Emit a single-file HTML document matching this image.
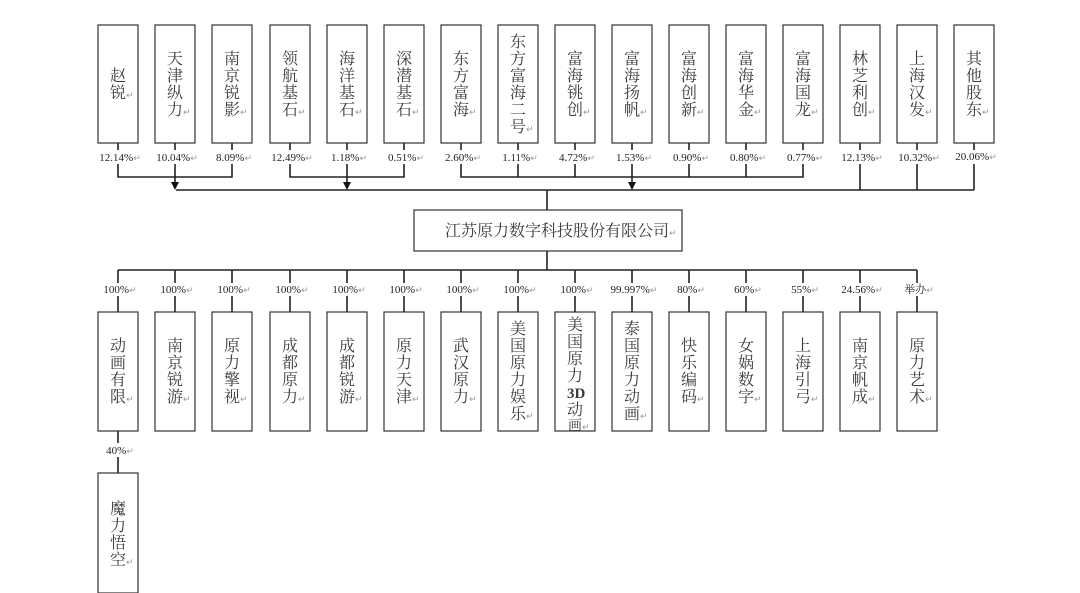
<!DOCTYPE html>
<html><head><meta charset="utf-8"><style>
html,body{margin:0;padding:0;background:#fff;}
svg{display:block;}
.c{font-family:"Liberation Serif","Noto Serif CJK SC",serif;font-size:16px;fill:#3a3a3a;text-anchor:start;}
.r{font-family:"DejaVu Sans",sans-serif;font-size:9px;fill:#999;}
.p{font-family:"Liberation Serif","Noto Serif CJK SC",serif;font-size:11px;fill:#222;text-anchor:middle;}
</style></head><body>
<svg width="1080" height="593" viewBox="0 0 1080 593" xmlns="http://www.w3.org/2000/svg">
<g fill="#fff" stroke="#333" stroke-width="1.2">
<rect x="98" y="25" width="40" height="118"/><rect x="155" y="25" width="40" height="118"/><rect x="212" y="25" width="40" height="118"/><rect x="270" y="25" width="40" height="118"/><rect x="327" y="25" width="40" height="118"/><rect x="384" y="25" width="40" height="118"/><rect x="441" y="25" width="40" height="118"/><rect x="498" y="25" width="40" height="118"/><rect x="555" y="25" width="40" height="118"/><rect x="612" y="25" width="40" height="118"/><rect x="669" y="25" width="40" height="118"/><rect x="726" y="25" width="40" height="118"/><rect x="783" y="25" width="40" height="118"/><rect x="840" y="25" width="40" height="118"/><rect x="897" y="25" width="40" height="118"/><rect x="954" y="25" width="40" height="118"/>
<rect x="414" y="210" width="268" height="41"/>
<rect x="98" y="312" width="40" height="119"/><rect x="155" y="312" width="40" height="119"/><rect x="212" y="312" width="40" height="119"/><rect x="270" y="312" width="40" height="119"/><rect x="327" y="312" width="40" height="119"/><rect x="384" y="312" width="40" height="119"/><rect x="441" y="312" width="40" height="119"/><rect x="498" y="312" width="40" height="119"/><rect x="555" y="312" width="40" height="119"/><rect x="612" y="312" width="40" height="119"/><rect x="669" y="312" width="40" height="119"/><rect x="726" y="312" width="40" height="119"/><rect x="783" y="312" width="40" height="119"/><rect x="840" y="312" width="40" height="119"/><rect x="897" y="312" width="40" height="119"/>
<rect x="98" y="473" width="40" height="120"/>
</g>
<g stroke="#222" stroke-width="1.6" fill="none">
<path d="M118 143V150M175 143V150M232 143V150M290 143V150M347 143V150M404 143V150M461 143V150M518 143V150M575 143V150M632 143V150M689 143V150M746 143V150M803 143V150M860 143V150M917 143V150M974 143V150"/>
<path d="M118 164V177H232V164M175 164V184M290 164V177H404V164M347 164V184M461 164V177H803V164M518 164V177M575 164V177M632 164V184M689 164V177M746 164V177"/>
<path d="M860 164V190M917 164V190M974 164V190M176 190H974M547 190V210M547 251V270M118 270H917"/>
<path d="M118 270V283M175 270V283M232 270V283M290 270V283M347 270V283M404 270V283M461 270V283M518 270V283M575 270V283M632 270V283M689 270V283M746 270V283M803 270V283M860 270V283M917 270V283"/>
<path d="M118 296V312M175 296V312M232 296V312M290 296V312M347 296V312M404 296V312M461 296V312M518 296V312M575 296V312M632 296V312M689 296V312M746 296V312M803 296V312M860 296V312M917 296V312"/>
<path d="M118 431V443M118 457V473"/>
</g>
<g fill="#111"><path d="M171 182H179L175 190Z"/><path d="M343 182H351L347 190Z"/><path d="M628 182H636L632 190Z"/></g>
<g class="p">
<text x="120" y="161">12.14%<tspan class="r">↵</tspan></text><text x="177" y="161">10.04%<tspan class="r">↵</tspan></text><text x="234" y="161">8.09%<tspan class="r">↵</tspan></text><text x="292" y="161">12.49%<tspan class="r">↵</tspan></text><text x="349" y="161">1.18%<tspan class="r">↵</tspan></text><text x="406" y="161">0.51%<tspan class="r">↵</tspan></text><text x="463" y="161">2.60%<tspan class="r">↵</tspan></text><text x="520" y="161">1.11%<tspan class="r">↵</tspan></text><text x="577" y="161">4.72%<tspan class="r">↵</tspan></text><text x="634" y="161">1.53%<tspan class="r">↵</tspan></text><text x="691" y="161">0.90%<tspan class="r">↵</tspan></text><text x="748" y="161">0.80%<tspan class="r">↵</tspan></text><text x="805" y="161">0.77%<tspan class="r">↵</tspan></text><text x="862" y="161">12.13%<tspan class="r">↵</tspan></text><text x="919" y="161">10.32%<tspan class="r">↵</tspan></text><text x="976" y="160">20.06%<tspan class="r">↵</tspan></text>
<text x="120" y="293">100%<tspan class="r">↵</tspan></text><text x="177" y="293">100%<tspan class="r">↵</tspan></text><text x="234" y="293">100%<tspan class="r">↵</tspan></text><text x="292" y="293">100%<tspan class="r">↵</tspan></text><text x="349" y="293">100%<tspan class="r">↵</tspan></text><text x="406" y="293">100%<tspan class="r">↵</tspan></text><text x="463" y="293">100%<tspan class="r">↵</tspan></text><text x="520" y="293">100%<tspan class="r">↵</tspan></text><text x="577" y="293">100%<tspan class="r">↵</tspan></text><text x="634" y="293">99.997%<tspan class="r">↵</tspan></text><text x="691" y="293">80%<tspan class="r">↵</tspan></text><text x="748" y="293">60%<tspan class="r">↵</tspan></text><text x="805" y="293">55%<tspan class="r">↵</tspan></text><text x="862" y="293">24.56%<tspan class="r">↵</tspan></text><text x="919" y="293">举办<tspan class="r">↵</tspan></text>
<text x="120" y="454">40%<tspan class="r">↵</tspan></text>
</g>
<g class="c" transform="translate(-8,0)">
<text x="118" y="81">赵</text><text x="118" y="98">锐<tspan class="r">↵</tspan></text>
<text x="175" y="64">天</text><text x="175" y="81">津</text><text x="175" y="98">纵</text><text x="175" y="115">力<tspan class="r">↵</tspan></text>
<text x="232" y="64">南</text><text x="232" y="81">京</text><text x="232" y="98">锐</text><text x="232" y="115">影<tspan class="r">↵</tspan></text>
<text x="290" y="64">领</text><text x="290" y="81">航</text><text x="290" y="98">基</text><text x="290" y="115">石<tspan class="r">↵</tspan></text>
<text x="347" y="64">海</text><text x="347" y="81">洋</text><text x="347" y="98">基</text><text x="347" y="115">石<tspan class="r">↵</tspan></text>
<text x="404" y="64">深</text><text x="404" y="81">潜</text><text x="404" y="98">基</text><text x="404" y="115">石<tspan class="r">↵</tspan></text>
<text x="461" y="64">东</text><text x="461" y="81">方</text><text x="461" y="98">富</text><text x="461" y="115">海<tspan class="r">↵</tspan></text>
<text x="518" y="47">东</text><text x="518" y="64">方</text><text x="518" y="81">富</text><text x="518" y="98">海</text><text x="518" y="115">二</text><text x="518" y="132">号<tspan class="r">↵</tspan></text>
<text x="575" y="64">富</text><text x="575" y="81">海</text><text x="575" y="98">铫</text><text x="575" y="115">创<tspan class="r">↵</tspan></text>
<text x="632" y="64">富</text><text x="632" y="81">海</text><text x="632" y="98">扬</text><text x="632" y="115">帆<tspan class="r">↵</tspan></text>
<text x="689" y="64">富</text><text x="689" y="81">海</text><text x="689" y="98">创</text><text x="689" y="115">新<tspan class="r">↵</tspan></text>
<text x="746" y="64">富</text><text x="746" y="81">海</text><text x="746" y="98">华</text><text x="746" y="115">金<tspan class="r">↵</tspan></text>
<text x="803" y="64">富</text><text x="803" y="81">海</text><text x="803" y="98">国</text><text x="803" y="115">龙<tspan class="r">↵</tspan></text>
<text x="860" y="64">林</text><text x="860" y="81">芝</text><text x="860" y="98">利</text><text x="860" y="115">创<tspan class="r">↵</tspan></text>
<text x="917" y="64">上</text><text x="917" y="81">海</text><text x="917" y="98">汉</text><text x="917" y="115">发<tspan class="r">↵</tspan></text>
<text x="974" y="64">其</text><text x="974" y="81">他</text><text x="974" y="98">股</text><text x="974" y="115">东<tspan class="r">↵</tspan></text>
<text x="453" y="236">江苏原力数字科技股份有限公司<tspan class="r">↵</tspan></text>
<text x="118" y="351">动</text><text x="118" y="368">画</text><text x="118" y="385">有</text><text x="118" y="402">限<tspan class="r">↵</tspan></text>
<text x="175" y="351">南</text><text x="175" y="368">京</text><text x="175" y="385">锐</text><text x="175" y="402">游<tspan class="r">↵</tspan></text>
<text x="232" y="351">原</text><text x="232" y="368">力</text><text x="232" y="385">擎</text><text x="232" y="402">视<tspan class="r">↵</tspan></text>
<text x="290" y="351">成</text><text x="290" y="368">都</text><text x="290" y="385">原</text><text x="290" y="402">力<tspan class="r">↵</tspan></text>
<text x="347" y="351">成</text><text x="347" y="368">都</text><text x="347" y="385">锐</text><text x="347" y="402">游<tspan class="r">↵</tspan></text>
<text x="404" y="351">原</text><text x="404" y="368">力</text><text x="404" y="385">天</text><text x="404" y="402">津<tspan class="r">↵</tspan></text>
<text x="461" y="351">武</text><text x="461" y="368">汉</text><text x="461" y="385">原</text><text x="461" y="402">力<tspan class="r">↵</tspan></text>
<text x="518" y="334">美</text><text x="518" y="351">国</text><text x="518" y="368">原</text><text x="518" y="385">力</text><text x="518" y="402">娱</text><text x="518" y="419">乐<tspan class="r">↵</tspan></text>
<text x="575" y="330">美</text><text x="575" y="347">国</text><text x="575" y="364">原</text><text x="575" y="381">力</text><text x="575" y="398" style="font-weight:bold;font-size:15px">3D</text><text x="575" y="415">动</text><text x="576" y="430" style="font-size:14px">画<tspan class="r">↵</tspan></text>
<text x="632" y="334">泰</text><text x="632" y="351">国</text><text x="632" y="368">原</text><text x="632" y="385">力</text><text x="632" y="402">动</text><text x="632" y="419">画<tspan class="r">↵</tspan></text>
<text x="689" y="351">快</text><text x="689" y="368">乐</text><text x="689" y="385">编</text><text x="689" y="402">码<tspan class="r">↵</tspan></text>
<text x="746" y="351">女</text><text x="746" y="368">娲</text><text x="746" y="385">数</text><text x="746" y="402">字<tspan class="r">↵</tspan></text>
<text x="803" y="351">上</text><text x="803" y="368">海</text><text x="803" y="385">引</text><text x="803" y="402">弓<tspan class="r">↵</tspan></text>
<text x="860" y="351">南</text><text x="860" y="368">京</text><text x="860" y="385">帆</text><text x="860" y="402">成<tspan class="r">↵</tspan></text>
<text x="917" y="351">原</text><text x="917" y="368">力</text><text x="917" y="385">艺</text><text x="917" y="402">术<tspan class="r">↵</tspan></text>
<text x="118" y="514">魔</text><text x="118" y="531">力</text><text x="118" y="548">悟</text><text x="118" y="565">空<tspan class="r">↵</tspan></text>
</g>
</svg>
</body></html>
